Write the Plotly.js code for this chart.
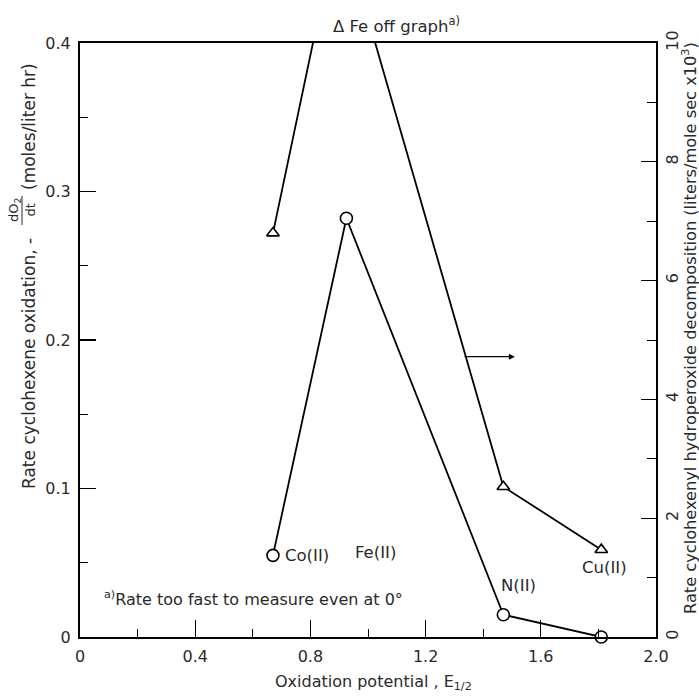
<!DOCTYPE html>
<html>
<head>
<meta charset="utf-8">
<script src="https://cdn.plot.ly/plotly-3.0.1.min.js"></script>
<style>html,body{margin:0;padding:0;background:#fff;}</style>
</head>
<body>
<div id="chart" style="width:699px;height:696px;"></div>
<script>
// Oxidation potential (E 1/2) for each metal ion
const metals = ["Co(II)", "Fe(II)", "N(II)", "Cu(II)"];
const potentialCircle = [0.67, 0.925, 1.47, 1.81];
const potentialTriangle = [0.67, 0.90, 1.47, 1.81];
// Rate cyclohexene oxidation, -dO2/dt (moles/liter hr) — left axis (circles)
const oxidationRate = [0.055, 0.282, 0.015, 0.0];
// Rate cyclohexenyl hydroperoxide decomposition (liters/mole sec x10^3) — right axis (triangles); Fe off graph
const decompositionRate = [6.8, 12.1, 2.53, 1.47];

const xTickVals = [0, 0.4, 0.8, 1.2, 1.6, 2.0];
const xTickText = ["0", "0.4", "0.8", "1.2", "1.6", "2.0"];
const yTickVals = [0, 0.1, 0.2, 0.3, 0.4];
const yTickText = ["0", "0.1", "0.2", "0.3", "0.4"];
const y2TickVals = [0, 2, 4, 6, 8, 10];
const y2TickText = ["0", "2", "4", "6", "8", "10"];

const FONT = "DejaVu Sans, sans-serif";
const TXT = "#2a2a2a";

const traces = [
  {
    x: potentialCircle, y: oxidationRate, type: "scatter", mode: "lines+markers",
    line: {color: "#000", width: 1.8},
    marker: {symbol: "circle", size: 12, color: "#fff", line: {color: "#000", width: 1.6}},
    cliponaxis: false, yaxis: "y", hoverinfo: "x+y", name: "oxidation"
  },
  {
    x: potentialTriangle, y: decompositionRate, type: "scatter", mode: "lines+markers",
    line: {color: "#000", width: 1.8},
    marker: {symbol: "triangle-up", size: 11, color: "#fff", line: {color: "#000", width: 1.6}},
    cliponaxis: true, yaxis: "y2", hoverinfo: "x+y", name: "decomposition"
  }
];

function px2x(p) { return (p - 80) / 576; }
function py2y(p) { return (637 - p) / 594; }

const lblFont = {family: FONT, size: 16.5, color: TXT};
const titleFont = {family: FONT, size: 17, color: TXT};

const layout = {
  width: 699, height: 696,
  margin: {l: 80, r: 43, t: 43, b: 59, pad: 0},
  paper_bgcolor: "#fff", plot_bgcolor: "#fff",
  showlegend: false,
  font: {family: FONT, size: 16, color: TXT},
  xaxis: {
    range: [0, 2.0], tickvals: xTickVals, ticktext: xTickText,
    ticks: "inside", ticklen: 17, tickwidth: 1.3, tickcolor: "#000",
    minor: {dtick: 0.2, ticks: "inside", ticklen: 8, tickwidth: 1, tickcolor: "#000"},
    showline: true, linewidth: 2, linecolor: "#000", mirror: true,
    showgrid: false, zeroline: false, ticklabelstandoff: 4,
    tickfont: {family: FONT, size: 16, color: TXT}
  },
  yaxis: {
    range: [0, 0.4], tickvals: yTickVals, ticktext: yTickText,
    ticks: "inside", ticklen: 16, tickwidth: 1.3, tickcolor: "#000",
    minor: {dtick: 0.05, ticks: "inside", ticklen: 8, tickwidth: 1, tickcolor: "#000"},
    showline: true, linewidth: 2, linecolor: "#000",
    showgrid: false, zeroline: false, ticklabelstandoff: 4,
    tickfont: {family: FONT, size: 16, color: TXT}
  },
  yaxis2: {
    range: [0, 10], tickvals: y2TickVals, ticktext: y2TickText,
    overlaying: "y", side: "right", tickangle: -90,
    ticks: "inside", ticklen: 15, tickwidth: 1.3, tickcolor: "#000",
    minor: {dtick: 1, ticks: "inside", ticklen: 9, tickwidth: 1, tickcolor: "#000"},
    showline: true, linewidth: 2, linecolor: "#000",
    showgrid: false, zeroline: false, ticklabelstandoff: 1,
    tickfont: {family: FONT, size: 16, color: TXT}
  },
  shapes: [
    {type: "line", xref: "paper", yref: "paper",
     x0: px2x(22), x1: px2x(22), y0: py2y(196), y1: py2y(225),
     line: {color: TXT, width: 1}}
  ],
  annotations: [
    {text: metals[0], x: 0.705, y: 0.055, xref: "x", yref: "y", xanchor: "left", yanchor: "middle", showarrow: false, font: lblFont},
    {text: metals[1], x: 0.948, y: 0.057, xref: "x", yref: "y", xanchor: "left", yanchor: "middle", showarrow: false, font: lblFont},
    {text: metals[2], x: 1.455, y: 0.035, xref: "x", yref: "y", xanchor: "left", yanchor: "middle", showarrow: false, font: lblFont},
    {text: metals[3], x: 1.735, y: 0.0465, xref: "x", yref: "y", xanchor: "left", yanchor: "middle", showarrow: false, font: lblFont},
    {text: "<sup>a)</sup>Rate too fast to measure even at 0°", x: 0.075, y: 0.026, xref: "x", yref: "y",
     xanchor: "left", yanchor: "middle", showarrow: false, font: {family: FONT, size: 16, color: TXT}},
    {text: "Δ Fe off graph<sup>a)</sup>", x: px2x(331), y: py2y(25), xref: "paper", yref: "paper",
     xanchor: "left", yanchor: "middle", showarrow: false, font: lblFont},
    {text: "", x: 1.51, y: 4.72, xref: "x", yref: "y2", ax: 1.33, ay: 4.72, axref: "x", ayref: "y2",
     showarrow: true, arrowhead: 2, arrowsize: 1, arrowwidth: 1.2, arrowcolor: "#000"},
    // x axis title
    {text: "Oxidation potential , E<sub>1/2</sub>", x: px2x(373), y: py2y(682), xref: "paper", yref: "paper",
     xanchor: "center", yanchor: "middle", showarrow: false, font: {family: FONT, size: 16, color: TXT}},
    // left axis title pieces
    {text: "Rate cyclohexene oxidation, -", x: px2x(29), y: py2y(364), xref: "paper", yref: "paper",
     xanchor: "center", yanchor: "middle", textangle: -90, showarrow: false, font: titleFont},
    {text: "dO<sub>2</sub><br>dt", x: px2x(22), y: py2y(210), xref: "paper", yref: "paper",
     xanchor: "center", yanchor: "middle", textangle: -90, showarrow: false,
     font: {family: FONT, size: 13, color: TXT}},
    {text: "(moles/liter hr)", x: px2x(29), y: py2y(127), xref: "paper", yref: "paper",
     xanchor: "center", yanchor: "middle", textangle: -90, showarrow: false, font: titleFont},
    // right axis title
    {text: "Rate cyclohexenyl hydroperoxide decomposition (liters/mole sec x10<sup>3</sup>)",
     x: px2x(689), y: py2y(328), xref: "paper", yref: "paper",
     xanchor: "center", yanchor: "middle", textangle: -90, showarrow: false,
     font: {family: FONT, size: 16.2, color: TXT}}
  ]
};

Plotly.newPlot("chart", traces, layout, {staticPlot: true, displayModeBar: false});
</script>
</body>
</html>
